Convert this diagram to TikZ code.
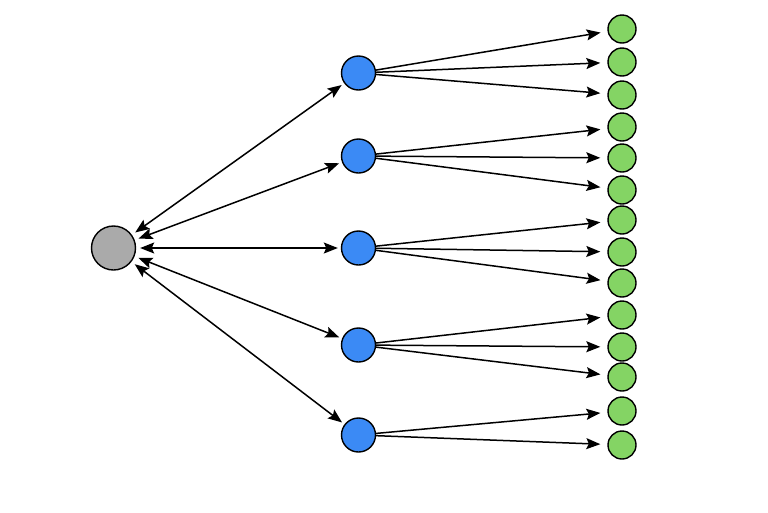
\documentclass[tikz,border=0pt]{standalone}
\usetikzlibrary{arrows.meta}
\definecolor{grayfill}{RGB}{170,170,170}
\definecolor{bluefill}{RGB}{59,138,245}
\definecolor{greenfill}{RGB}{132,212,100}
\begin{document}
\begin{tikzpicture}[x=1pt,y=-1pt,
  root/.style={circle,draw=black,line width=1.4pt,fill=grayfill,minimum size=44pt,inner sep=0pt},
  mid/.style={circle,draw=black,line width=1.4pt,fill=bluefill,minimum size=34pt,inner sep=0pt},
  leaf/.style={circle,draw=black,line width=1.4pt,fill=greenfill,minimum size=28pt,inner sep=0pt},
  tip/.tip={Stealth[length=14pt,width=11pt,inset=2.5pt]},
  link/.style={line width=1.5pt,-tip},
  both/.style={line width=1.5pt,tip-tip,shorten <=4pt,shorten >=3pt}]
\useasboundingbox[fill=white] (0,0) rectangle (768,512);
\node[root] (r) at (113.5,248) {};
\node[mid] (b1) at (358.5,73) {};
\node[mid] (b2) at (358.5,156) {};
\node[mid] (b3) at (358.5,248) {};
\node[mid] (b4) at (358.5,345) {};
\node[mid] (b5) at (358.5,435) {};
\foreach \i/\y in {1/29,2/62,3/95,4/127,5/158,6/190,7/220,8/252,9/283,10/315,11/347,12/377,13/411,14/445}
  \node[leaf] (g\i) at (622,\y) {};
\foreach \b in {1,...,5} \draw[both] (r) -- (b\b);
\foreach \b/\g in {1/1,1/2,1/3,2/4,2/5,2/6,3/7,3/8,3/9,4/10,4/11,4/12,5/13,5/14}
  \draw[link,shorten >=7pt] (b\b) -- (g\g);
\end{tikzpicture}
\end{document}
